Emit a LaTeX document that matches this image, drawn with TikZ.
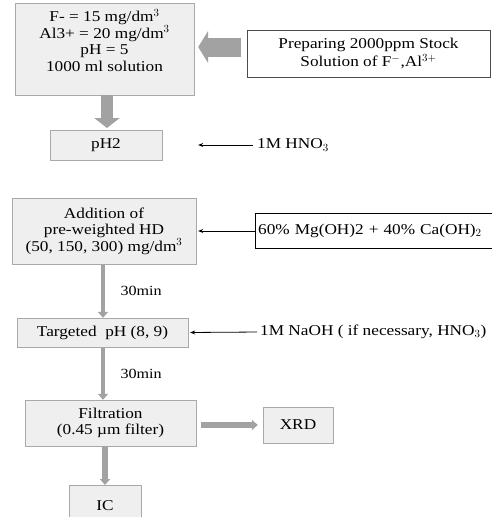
\documentclass[tikz,border=0pt]{standalone}
\usepackage{fontspec}
\setmainfont{Liberation Serif}[FakeStretch=1.15]
\usepackage{tikz}
\usepackage{xcolor}
\usetikzlibrary{positioning, arrows.meta}
\definecolor{bGray}{HTML}{A9A9A9}
\definecolor{bFill}{HTML}{EFEFEF}
\definecolor{aGray}{HTML}{A2A2A2}

\begin{document}
\begin{tikzpicture}[x=1pt, y=-1pt,
  stage/.style={draw=bGray, fill=bFill, align=center, inner sep=0pt,
                font=\fontsize{15}{16.5}\selectfont},
  source/.style={draw=black!70, fill=white, align=center, inner sep=0pt,
                 font=\fontsize{15}{18.5}\selectfont},
  note/.style={anchor=west, inner sep=0pt, font=\fontsize{15}{16.5}\selectfont},
  fat/.style={draw=aGray, line width=12pt,
              -{Triangle[length=10pt, width=25pt]}},
  slim/.style={draw=aGray, line width=4.5pt,
               -{Triangle[length=6pt, width=10pt]}},
  feed/.style={draw=black, line width=0.8pt,
               -{Stealth[length=5pt, width=4pt]}},
]
  \useasboundingbox (0,0) rectangle (491,517);

  \node[stage, minimum width=179pt, minimum height=92pt] (conc) at (104.5, 49) {
    F- = 15 mg/dm$^3$\\
    Al3+ = 20 mg/dm$^3$\\
    pH = 5\\
    1000 ml solution\\[1pt]
    \mbox{}};
  \node[source, minimum width=243pt, minimum height=47pt] (stock) at (368.5, 53.5) {
    Preparing 2000ppm Stock\\
    Solution of F$^{-}$,Al$^{3+}$};
  \node[stage, minimum width=112pt, minimum height=30pt] (ph2) at (106, 145) {pH2};
  \node[note] (hno3) at (257, 145) {1M HNO$_3$};

  \node[stage, minimum width=184pt, minimum height=66pt] (add) at (104, 231) {
    Addition of\\
    pre-weighted HD\\
    (50, 150, 300) mg/dm$^3$};
  \node[source, draw=black, line width=1.4pt, minimum width=245pt,
        minimum height=35pt, text width=239pt, align=left, inner sep=3pt,
        anchor=west] (mix) at (254.5, 231)
    {60\% Mg(OH)2 + 40\% Ca(OH)$_2$};

  \node[stage, minimum width=171pt, minimum height=29pt] (target) at (102.5, 332.5) {Targeted\ \ pH (8, 9)};
  \node[note] (naoh) at (260, 332) {1M NaOH ( if necessary, HNO$_3$)};

  \node[stage, minimum width=171pt, minimum height=46pt] (filt) at (110.5, 423) {
    Filtration\\
    (0.45 µm filter)};
  \node[stage, minimum width=70pt, minimum height=36pt] (xrd) at (298, 425) {XRD};
  \node[stage, minimum width=72pt, minimum height=40pt, anchor=north] (ic) at (105, 485) {IC};

  % thick grey flow arrows
  \draw[draw=aGray, line width=19pt, -{Triangle[length=10pt, width=32pt]},
        shorten >=4pt] (stock.west |- 0,47) ++(-6,0) -- (conc.east |- 0,47);
  \draw[fat, shorten >=2pt] (107, 95) -- (107, 130);
  \draw[slim, shorten <=1pt] (add.south -| 103,0) -- (target.north -| 103,0)
    node[midway, right=12pt, font=\fontsize{14}{15}\selectfont] {30min};
  \draw[slim, shorten <=1pt] (target.south -| 103,0) -- (filt.north -| 103,0)
    node[midway, right=12pt, font=\fontsize{14}{15}\selectfont] {30min};
  \draw[slim, line width=6pt, shorten <=5pt, shorten >=5pt] (filt.east |- 0,425) -- (xrd.west |- 0,425);
  \draw[slim, line width=6pt] (filt.south -| ic.north) -- (ic.north);

  % reagent feeds
  \draw[feed, shorten <=4pt, shorten >=36pt] (hno3.west) -- (ph2.east);
  \draw[feed, shorten >=2pt] (mix.west) -- (add.east);
  \draw[feed, shorten <=3pt, shorten >=2pt] (naoh.west) -- (target.east);
\end{tikzpicture}
\end{document}
